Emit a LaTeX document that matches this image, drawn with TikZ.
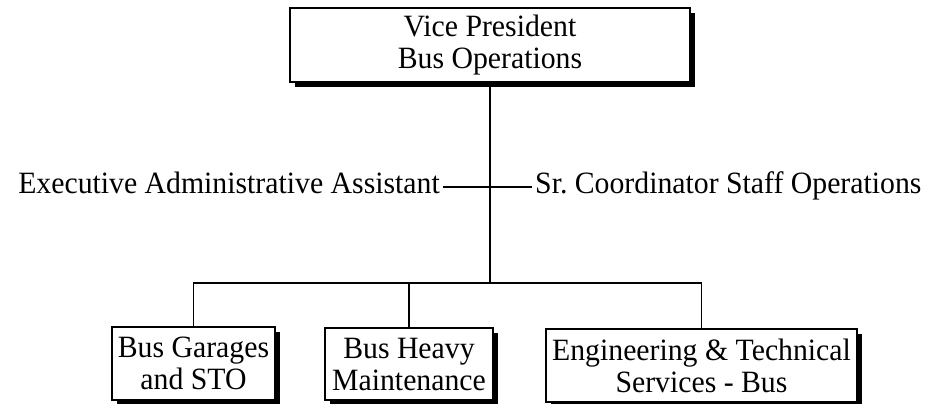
\documentclass[tikz,border=0pt]{standalone}
\usepackage{fontspec}
\setmainfont[FakeStretch=0.96]{Liberation Serif}
\usetikzlibrary{shadows}
\begin{document}
\begin{tikzpicture}[x=1pt,y=-1pt,
  box/.style={draw, line width=1.8pt, fill=white, align=center, inner sep=0pt,
    font=\fontsize{31}{32}\selectfont,
    general shadow={fill=black, shadow xshift=5pt, shadow yshift=-5pt}},
  lbl/.style={inner sep=0pt, font=\fontsize{31}{32}\selectfont},
  conn/.style={line width=1.8pt}]
\useasboundingbox (0,0) rectangle (929,404);
\node[box, minimum width=400pt, minimum height=74pt] (vp) at (490,45) {Vice President\\Bus Operations};
\node[box, minimum width=163pt, minimum height=73pt] (b1) at (193.5,363.5) {Bus Garages\\and STO};
\node[box, minimum width=168pt, minimum height=72pt] (b2) at (409,364) {Bus Heavy\\Maintenance};
\node[box, minimum width=311pt, minimum height=73pt] (b3) at (701.5,365.5) {Engineering \& Technical\\Services - Bus};
\node[lbl, anchor=base east] (ea) at (440,193) {Executive Administrative Assistant};
\node[lbl, anchor=base west] (sr) at (535,193) {Sr.\ Coordinator Staff Operations};
\coordinate (bar) at (490,283);
\draw[conn] ([xshift=3pt,yshift=6pt]ea.base east) -- ([xshift=-3pt,yshift=6pt]sr.base west);
\draw[conn] (vp.south) -- (vp.south |- bar);
\draw[conn] (b1.north) |- (b3.north |- bar) -- (b3.north);
\draw[conn] (b2.north) -- (b2.north |- bar);
\end{tikzpicture}
\end{document}
